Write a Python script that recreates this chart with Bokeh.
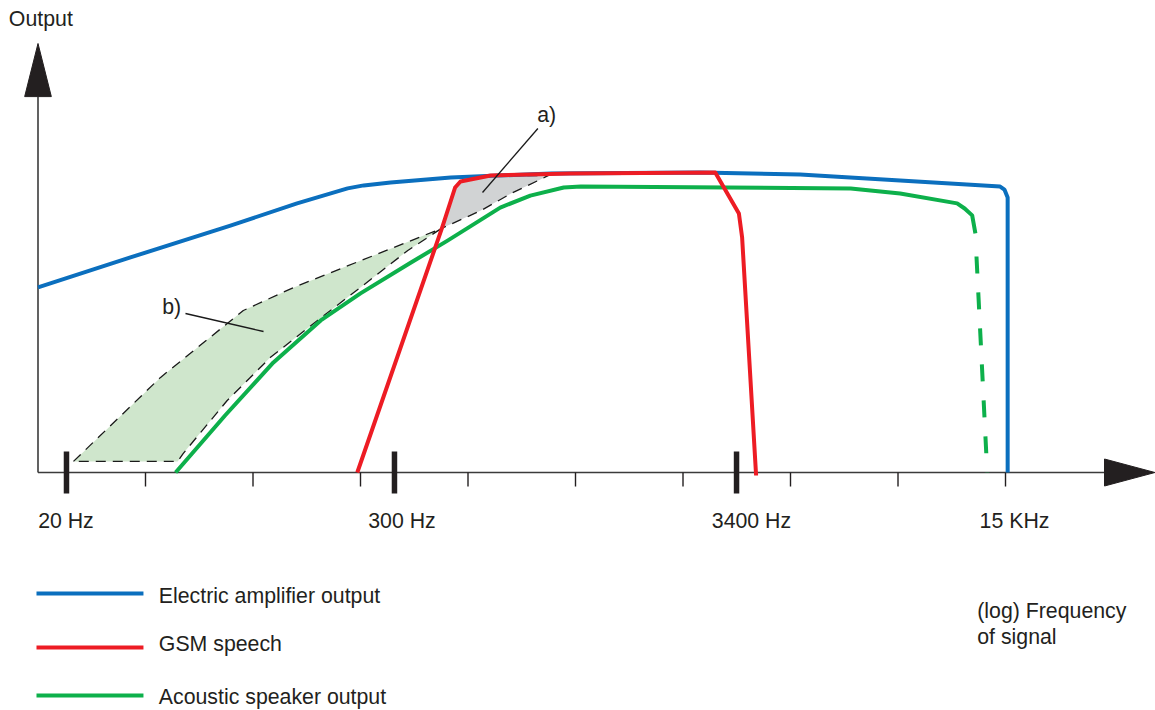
from bokeh.plotting import figure
from bokeh.models import Range1d
from bokeh.core.properties import value
from bokeh.embed import file_html
from bokeh.resources import INLINE

# ---------------- data (x: schematic log-frequency position, y: output level) ----------------
amp_x = [0.0, 0.86, 1.79, 2.41, 2.88, 3.03, 3.28, 3.84, 4.77, 6.16, 7.09, 8.02, 8.95, 8.99, 9.02, 9.02, 9.02]
amp_y = [61.7, 71.7, 82.3, 89.7, 94.7, 95.7, 96.7, 98.3, 99.7, 100.0, 99.3, 97.3, 95.3, 94.3, 91.7, 87.3, 0.0]

gsm_x = [2.97, 3.76, 3.88, 3.93, 4.21, 4.95, 6.30, 6.52, 6.55, 6.68]
gsm_y = [0.0, 81.7, 95.0, 97.0, 99.0, 99.7, 100.0, 86.3, 78.3, -1.0]

spk_x = [1.28, 1.74, 2.19, 2.63, 3.00, 3.47, 3.81, 4.30, 4.58, 4.89, 5.05, 7.56, 8.02, 8.55, 8.62, 8.69, 8.72]
spk_y = [0.0, 19.0, 36.7, 50.7, 59.7, 70.0, 77.3, 88.3, 92.3, 95.0, 95.3, 94.7, 93.0, 89.7, 88.0, 85.7, 79.7]
spk_dash_x = [8.73, 8.83]
spk_dash_y = [72.0, 0.0]

# region b) : acoustic speaker spread (upper boundary then lower boundary)
band_b_x = [0.33, 1.14, 1.91, 2.38, 2.84, 3.31, 3.75, 3.44, 3.00, 2.60, 2.16, 1.76, 1.35, 1.30]
band_b_y = [3.7, 31.7, 54.0, 61.7, 68.3, 75.0, 81.3, 74.0, 61.7, 50.7, 38.3, 24.0, 6.3, 3.7]

# region a) : GSM band above the speaker spread
band_a_x = [3.75, 3.88, 3.93, 4.21, 4.75, 4.40, 4.12]
band_a_y = [81.3, 95.0, 97.0, 99.0, 99.0, 93.0, 87.3]

minor_ticks = [1, 2, 3, 4, 5, 6, 7, 8, 9]
major_ticks = [0.265, 3.316, 6.498]
tick_labels = ["20 Hz", "300 Hz", "3400 Hz", "15 KHz"]
tick_label_x = [0.260, 3.386, 6.637, 9.084]

series_names = ["Electric amplifier output", "GSM speech", "Acoustic speaker output"]
series_colors = ["#0b6fbe", "#ed1c24", "#0db04b"]

TXT = "#231f20"
AX = "#3b3b3b"
FONT = value("Liberation Sans")
FS = "21.3px"

p = figure(width=1155, height=710, output_backend="svg", toolbar_location=None,
           x_range=Range1d(-0.34884, 10.3953), y_range=Range1d(-79.333, 157.333),
           x_axis_location=None, y_axis_location=None, min_border=0)
p.grid.visible = False
p.outline_line_color = None
p.background_fill_color = "white"
p.border_fill_color = "white"

# shaded regions
p.patch(band_b_x, band_b_y, fill_color="#cfe6cc", line_color="#1a1a1a", line_width=1.3, line_dash="10 7")
p.patch(band_a_x, band_a_y, fill_color="#d1d3d4", line_color="#1a1a1a", line_width=1.3, line_dash="10 7")

# axes
p.segment(x0=[0, 0], y0=[0, 0], x1=[0, 9.93], y1=[125.3, 0], line_color=AX, line_width=1.6)
p.patch([-0.124, 0.0, 0.124], [125.3, 143.0, 125.3], fill_color=TXT, line_color=TXT)
p.patch([9.921, 10.39, 9.921], [4.5, 0.0, -4.5], fill_color=TXT, line_color=TXT)
p.segment(x0=minor_ticks, y0=[0] * len(minor_ticks), x1=minor_ticks, y1=[-4.67] * len(minor_ticks),
          line_color=TXT, line_width=1.4)
p.segment(x0=major_ticks, y0=[7] * len(major_ticks), x1=major_ticks, y1=[-7] * len(major_ticks),
          line_color=TXT, line_width=5.5)
p.text(x=tick_label_x, y=[-16.33] * 4, text=tick_labels, text_align="center", text_baseline="alphabetic",
       text_font=FONT, text_font_size=FS, text_color=TXT)

# curves
p.line(amp_x, amp_y, line_color=series_colors[0], line_width=4, line_join="round")
p.line(spk_x, spk_y, line_color=series_colors[2], line_width=4, line_join="round")
p.line(spk_dash_x, spk_dash_y, line_color=series_colors[2], line_width=4, line_dash="17 19")
p.line(gsm_x, gsm_y, line_color=series_colors[1], line_width=4, line_join="round")

# annotations a) and b)
p.segment(x0=[4.65, 1.372], y0=[114.67, 53.0], x1=[4.135, 2.098], y1=[93.33, 47.0], line_color="#1a1a1a", line_width=1.3)
p.text(x=[4.644, 1.155], y=[119.0, 55.33], text=["a)", "b)"], text_baseline="alphabetic",
       text_font=FONT, text_font_size=FS, text_color=TXT)

# axis titles
p.text(x=[-0.271], y=[151.33], text=["Output"], text_baseline="alphabetic",
       text_font=FONT, text_font_size=FS, text_color=TXT)
p.text(x=[8.737, 8.737], y=[-46.1, -54.67], text=["(log) Frequency", "of signal"], text_baseline="alphabetic",
       text_font=FONT, text_font_size=FS, text_color=TXT)

# legend
leg_y = [-40.33, -58.33, -74.33]
leg_text_y = [-41.33, -57.33, -74.67]
p.segment(x0=[-0.014] * 3, y0=leg_y, x1=[0.981] * 3, y1=leg_y, line_color=series_colors, line_width=4)
p.text(x=[1.124] * 3, y=leg_text_y, text=series_names, text_baseline="alphabetic",
       text_font=FONT, text_font_size=FS, text_color=TXT)

open("out.html", "w").write(file_html(p, INLINE))
